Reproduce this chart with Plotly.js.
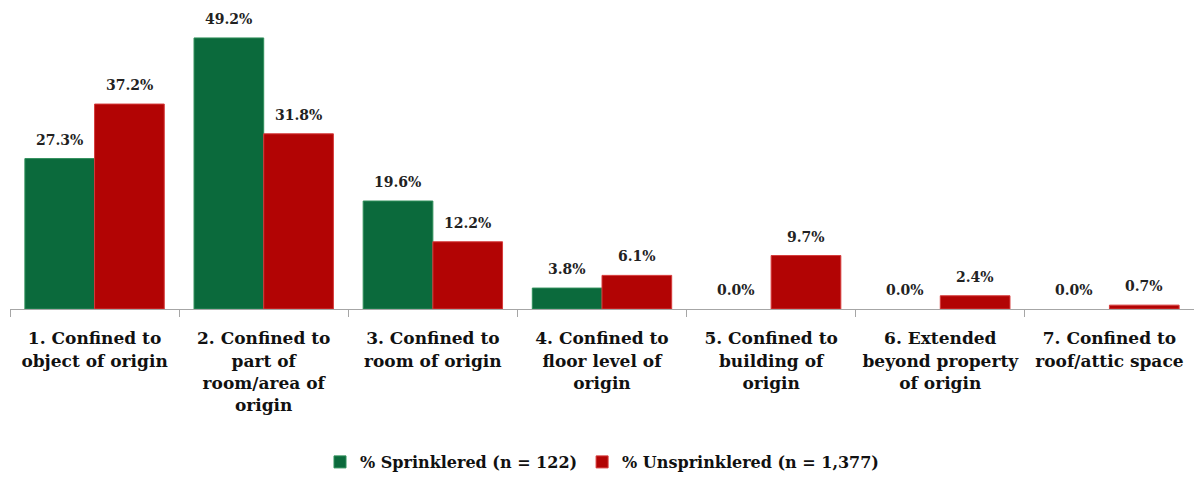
<!DOCTYPE html>
<html>
<head>
<meta charset="utf-8">
<script src="https://cdn.plot.ly/plotly-3.0.1.min.js"></script>
<style>html,body{margin:0;padding:0;background:#fff;}#chart{width:1194px;height:479px;}</style>
</head>
<body>
<div id="chart"></div>
<script>
const categories = [
  "1. Confined to<br>object of origin",
  "2. Confined to<br>part of<br>room/area of<br>origin",
  "3. Confined to<br>room of origin",
  "4. Confined to<br>floor level of<br>origin",
  "5. Confined to<br>building of<br>origin",
  "6. Extended<br>beyond property<br>of origin",
  "7. Confined to<br>roof/attic space"
];
const sprinklered = [27.3, 49.2, 19.6, 3.8, 0.0, 0.0, 0.0];
const unsprinklered = [37.2, 31.8, 12.2, 6.1, 9.7, 2.4, 0.7];
const seriesNames = ["% Sprinklered (n = 122)", "% Unsprinklered (n = 1,377)"];

const FONT = "DejaVu Serif, Cambria, serif";
const fmt = v => v.toFixed(1) + "%";
const edge = vals => vals.map(v => v > 0 ? 1 : 0);

const traces = [
  {type: "bar", name: seriesNames[0], x: categories, y: sprinklered,
   marker: {color: "#0b6a3c", line: {color: "#2f8f5a", width: edge(sprinklered)}}, hoverinfo: "y"},
  {type: "bar", name: seriesNames[1], x: categories, y: unsprinklered,
   marker: {color: "#b20404", line: {color: "#d63a3a", width: edge(unsprinklered)}}, hoverinfo: "y"}
];

const annotations = [];
categories.forEach((c, i) => {
  annotations.push({x: c, y: sprinklered[i], text: "<b>" + fmt(sprinklered[i]) + "</b>", showarrow: false,
    xref: "x", yref: "y", yanchor: "bottom", yshift: 9, xshift: -35, font: {family: FONT, size: 14, color: "#222"}});
  annotations.push({x: c, y: unsprinklered[i], text: "<b>" + fmt(unsprinklered[i]) + "</b>", showarrow: false,
    xref: "x", yref: "y", yanchor: "bottom", yshift: 9, xshift: 35, font: {family: FONT, size: 14, color: "#222"}});
});

const layout = {
  width: 1194, height: 479,
  margin: {l: 10, r: 0, t: 6, b: 168},
  paper_bgcolor: "#fff", plot_bgcolor: "#fff",
  barmode: "group", bargap: 0.176, bargroupgap: 0,
  showlegend: true,
  legend: {orientation: "h", x: 0.5, xanchor: "center", y: -0.505, yanchor: "middle",
    font: {family: FONT, size: 16, color: "#111", weight: "bold"}, traceorder: "normal", itemwidth: 30},
  xaxis: {type: "category", showgrid: false, zeroline: false, showline: true, linecolor: "#a6a6a6", linewidth: 1,
    ticks: "outside", tickson: "boundaries", ticklen: 7, tickcolor: "#a6a6a6", ticklabelstandoff: 14,
    tickfont: {family: FONT, size: 17, color: "#111", weight: "bold", lineposition: "none"}, tickangle: 0},
  yaxis: {range: [0, 55], visible: false, fixedrange: true},
  annotations: annotations,
  font: {family: FONT}
};

Plotly.newPlot("chart", traces, layout, {displayModeBar: false, staticPlot: true});
</script>
</body>
</html>
